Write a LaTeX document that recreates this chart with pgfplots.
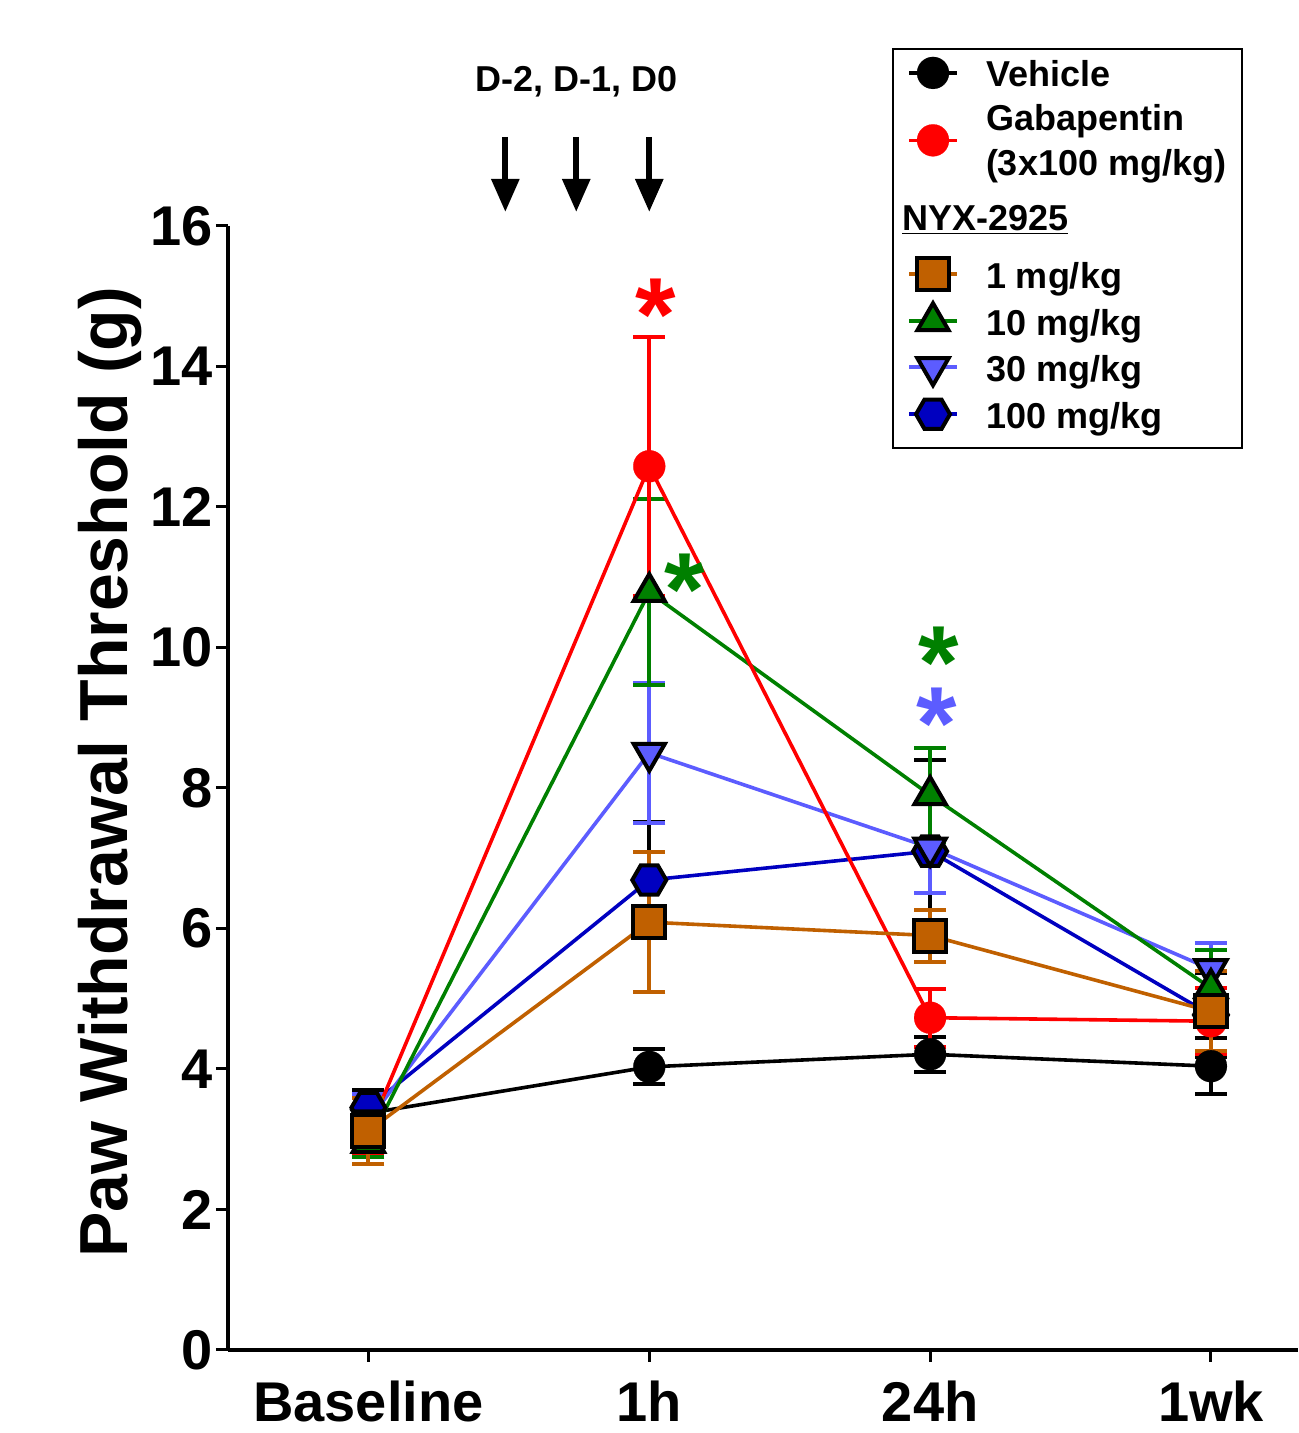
\documentclass[border=0pt]{standalone}
\usepackage{fontspec}
\setmainfont{Liberation Sans}
\usepackage{pgfplots}
\pgfplotsset{compat=1.18}
\usetikzlibrary{calc,arrows.meta}
\definecolor{gabred}{RGB}{255,0,0}
\definecolor{dgreen}{RGB}{0,128,0}
\definecolor{orng}{RGB}{192,96,0}
\definecolor{bviolet}{RGB}{92,92,255}
\definecolor{dblue}{RGB}{0,0,192}
\pgfdeclareplotmark{hexagon*}{%
  \pgfpathmoveto{\pgfqpointpolar{0}{\pgfplotmarksize}}%
  \pgfpathlineto{\pgfqpointpolar{60}{\pgfplotmarksize}}%
  \pgfpathlineto{\pgfqpointpolar{120}{\pgfplotmarksize}}%
  \pgfpathlineto{\pgfqpointpolar{180}{\pgfplotmarksize}}%
  \pgfpathlineto{\pgfqpointpolar{240}{\pgfplotmarksize}}%
  \pgfpathlineto{\pgfqpointpolar{300}{\pgfplotmarksize}}%
  \pgfpathclose
  \pgfusepathqfillstroke}
\newcommand{\ls}{\rule[-5pt]{0pt}{18pt}}
\pgfplotsset{
  ebars/.style={error bars/.cd, y dir=both, y explicit,
    error bar style={line width=2pt, solid},
    error mark options={rotate=90, line width=2pt, mark size=8pt, solid}},
  ebarsk/.style={error bars/.cd, y dir=both, y explicit,
    error bar style={line width=2pt, solid, black},
    error mark options={rotate=90, line width=2pt, mark size=8pt, solid, black}},
  vehstyle/.style={black, line width=1.8pt, mark=*, mark size=8pt,
    mark options={solid, fill=black, draw=black, line width=0.1pt}},
  gabstyle/.style={gabred, line width=1.8pt, mark=*, mark size=8pt,
    mark options={solid, fill=gabred, draw=gabred, line width=0.1pt}},
  onestyle/.style={orng, line width=1.8pt, mark=square*, mark size=8pt,
    mark options={solid, fill=orng, draw=black, line width=2pt}},
  tenstyle/.style={dgreen, line width=1.8pt, mark=triangle*, mark size=9pt,
    mark options={solid, fill=dgreen, draw=black, line width=2pt}},
  thirtystyle/.style={bviolet, line width=1.8pt, mark=triangle*, mark size=9pt,
    mark options={solid, fill=bviolet, draw=black, line width=2pt, rotate=180}},
  hundredstyle/.style={dblue, line width=1.8pt, mark=hexagon*, mark size=8.5pt,
    mark options={solid, fill=dblue, draw=black, line width=2pt}},
  % legend image: #1 extent above, #2 extent below, #3 y of sample
  limg/.style n args={3}{legend image code/.code={%
    \path[draw=none] (0pt,-#2) rectangle (45.5pt,#1);
    \draw[mark repeat=2,mark phase=2] plot coordinates {(7pt,#3) (19pt,#3) (31pt,#3)};}},
}
\begin{document}
\begin{tikzpicture}
\begin{axis}[
  scale only axis, width=535pt, height=562pt,
  xmin=-0.5, xmax=3.31, ymin=0, ymax=16,
  axis x line*=bottom, axis y line*=left,
  axis line style={line width=2pt},
  xtick={0,1,2,3}, xticklabels={Baseline,1h,24h,1wk},
  ytick={0,2,...,16},
  tick align=outside, major tick length=6pt,
  tick style={line width=1.5pt, black},
  /pgf/number format/assume math mode=true,
  ticklabel style={font=\bfseries\fontsize{28}{28}\selectfont, inner sep=0pt},
  xticklabel style={yshift=-9.5pt},
  yticklabel style={xshift=-1.5pt},
  ylabel={Paw Withdrawal Threshold (g)},
  ylabel style={font=\bfseries\fontsize{34}{34}\selectfont,
    at={(axis description cs:-0.1103,0.514)}, anchor=center, inner sep=0pt},
  clip=false,
  legend cell align=left,
  legend style={at={(0.9486,1.1584)}, anchor=north east, draw=black,
    line width=1pt, inner sep=1pt, row sep=0pt,
    font=\bfseries\fontsize{18}{22.5}\selectfont,
    nodes={inner sep=0pt}},
]
\coordinate (SW) at (rel axis cs:0,0);
\coordinate (NE) at (rel axis cs:1,1);

% Vehicle
\addplot[vehstyle, forget plot, ebars] coordinates {
  (0,3.37) +- (0,0.32) (1,4.03) +- (0,0.25) (2,4.21) +- (0,0.25) (3,4.04) +- (0,0.40)};
% 100 mg/kg
\addplot[hundredstyle, forget plot, ebarsk] coordinates {
  (0,3.45) +- (0,0.25) (1,6.69) +- (0,0.83) (2,7.10) +- (0,1.30) (3,4.77) +- (0,0.60)};
% 30 mg/kg
\addplot[thirtystyle, forget plot, ebars] coordinates {
  (0,3.27) +- (0,0.37) (1,8.50) +- (0,1.00) (2,7.15) +- (0,0.65) (3,5.42) +- (0,0.37)};
% 10 mg/kg
\addplot[tenstyle, forget plot, ebars] coordinates {
  (0,2.95) +- (0,0.20) (1,10.79) +- (0,1.33) (2,7.90) +- (0,0.67) (3,5.15) +- (0,0.55)};
% Gabapentin
\addplot[gabstyle, forget plot, ebars] coordinates {
  (0,3.10) +- (0,0.30) (1,12.58) +- (0,1.84) (2,4.73) +- (0,0.41) (3,4.68) +- (0,0.47)};
% 1 mg/kg
\addplot[onestyle, forget plot, ebars] coordinates {
  (0,3.12) +- (0,0.47) (1,6.09) +- (0,1.00) (2,5.90) +- (0,0.37) (3,4.82) +- (0,0.57)};

\addlegendimage{vehstyle, limg={11pt}{11pt}{0pt}}
\addlegendentry{\parbox[c][22.7pt][c]{127pt}{\ls Vehicle}}
\addlegendimage{gabstyle, limg={23.5pt}{23.5pt}{0.8pt}}
\addlegendentry{\parbox[b]{127pt}{\ls Gabapentin\\\ls(3x100 mg/kg)}}
\addlegendimage{legend image code/.code={\path[draw=none] (0pt,-15.75pt) rectangle (45.5pt,15.15pt);}}
\addlegendentry{\ls\hspace*{-42pt}\underline{NYX-2925}}
\addlegendimage{onestyle, limg={11.75pt}{11.75pt}{0pt}}
\addlegendentry{\parbox[c][23.2pt][c]{127pt}{\ls 1 mg/kg}}
\addlegendimage{tenstyle, limg={11.75pt}{11.75pt}{0pt}}
\addlegendentry{\parbox[c][23.2pt][c]{127pt}{\ls 10 mg/kg}}
\addlegendimage{thirtystyle, limg={11.25pt}{11.75pt}{0pt}}
\addlegendentry{\parbox[c][23.2pt][c]{127pt}{\ls 30 mg/kg}}
\addlegendimage{hundredstyle, limg={11.75pt}{16pt}{0pt}}
\addlegendentry{\parbox[c][23.2pt][c]{127pt}{\ls 100 mg/kg}}

% dosing arrows
\draw[line width=3pt, -{Triangle[width=13.5pt,length=16.5pt]}] (axis cs:0.4875,17.27) -- (axis cs:0.4875,16.2);
\draw[line width=3pt, -{Triangle[width=13.5pt,length=16.5pt]}] (axis cs:0.740,17.27) -- (axis cs:0.740,16.2);
\draw[line width=3pt, -{Triangle[width=13.5pt,length=16.5pt]}] (axis cs:1.0,17.27) -- (axis cs:1.0,16.2);
\node[font=\bfseries\fontsize{18}{18}\selectfont] at (axis cs:0.74,18.05) {D-2, D-1, D0};

% significance stars
\node[anchor=base, text=gabred, font=\bfseries\fontsize{52}{52}\selectfont, inner sep=0pt] at (axis cs:1.022,14.23) {*};
\node[anchor=base, text=dgreen, font=\bfseries\fontsize{52}{52}\selectfont, inner sep=0pt] at (axis cs:1.128,10.31) {*};
\node[anchor=base, text=dgreen, font=\bfseries\fontsize{52}{52}\selectfont, inner sep=0pt] at (axis cs:2.03,9.27) {*};
\node[anchor=base, text=bviolet, font=\bfseries\fontsize{52}{52}\selectfont, inner sep=0pt] at (axis cs:2.025,8.40) {*};
\end{axis}
\pgfresetboundingbox
\useasboundingbox ($(SW)+(-114pt,-41.5pt)$) rectangle ($(NE)+(0pt,113pt)$);
\end{tikzpicture}
\end{document}
